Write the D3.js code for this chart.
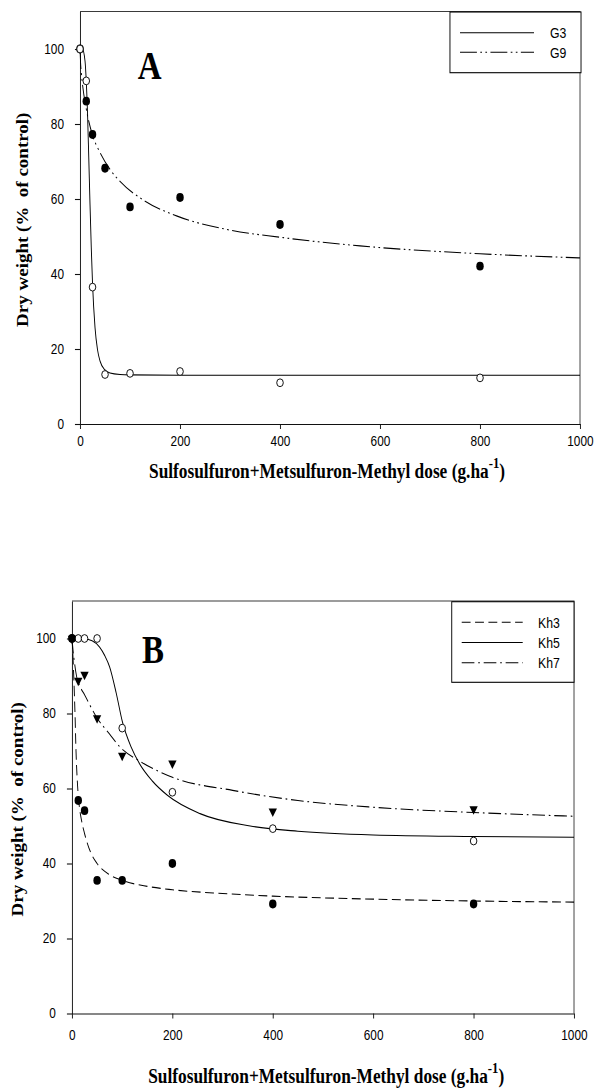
<!DOCTYPE html>
<html>
<head>
<meta charset="utf-8">
<script src="https://cdn.jsdelivr.net/npm/d3@7"></script>
<style>
  body { margin: 0; background: #fff; }
</style>
</head>
<body>
<div id="chart"></div>
<script>
	///////////////////////////////////////////////////////////////////////////
	/////////////////////////////////// Data //////////////////////////////////
	///////////////////////////////////////////////////////////////////////////

	var doses = [0, 12.5, 25, 50, 100, 200, 400, 800];

	//Panel A - measured dry weight (% of control)
	var g3 = [100, 91.5, 36.5, 13.2, 13.5, 14, 11, 12.3];
	var g9 = [100, 86.1, 77.2, 68.2, 57.9, 60.4, 53.2, 42.1];

	//Panel B
	var kh3 = [100, 56.8, 54.1, 35.5, 35.5, 40, 29.2, 29.2];
	var kh5 = [100, 100, 100, 100, 76.1, 59, 49.3, 46];
	var kh7 = [100, 88.8, 90.4, 78.8, 68.8, 66.7, 53.9, 54.5];

	//Fitted curves as [dose, % of control]
	var g3Fit = [[0,100],[5,99.9],[10,96.8],[12.5,91.4],[15,83],[17.5,71],[20,58.5],[22.5,47],[25,37.5],
		[30,25.7],[35,19.8],[40,16.8],[50,14.4],[60,13.6],[80,13.2],[100,13.1],[200,13],[1000,13]];
	var g9Fit = [[0,100],[1,96.6],[2.5,93.8],[5,90.5],[12.5,84],[25,77],[40,72.4],[60,67.9],[80,64.7],
		[127,59.7],[193,55.5],[293,51.9],[400,49.8],[560,47.5],[800,45.4],[1000,44.3]];
	var kh3Fit = [[0,100],[2,95],[4,88],[6,80],[8,70],[11,61],[14,56],[19,51.5],[25,48],[37,43],[50,40],
		[75,37],[100,35.5],[150,33.9],[200,33],[300,32],[400,31.3],[600,30.5],[800,30],[1000,29.7]];
	var kh5Fit = [[0,100],[20,100],[40,99.4],[55,97.7],[65,95.5],[75,92.4],[88,85.5],[100,78],[118,71],
		[135,66.5],[160,62],[190,58.2],[255,53.3],[355,50],[450,48.6],[600,47.6],[800,47.2],[1000,47]];
	var kh7Fit = [[0,100],[2,97],[5,93.5],[9,90],[15,87.5],[25,85],[49,79],[75,74.5],[96,71],[135,67.3],
		[200,63],[320,59.5],[450,56.8],[600,55],[800,53.6],[1000,52.6]];

	var xTicks = [0, 200, 400, 600, 800, 1000];
	var yTicks = [0, 20, 40, 60, 80, 100];

	///////////////////////////////////////////////////////////////////////////
	////////////////////////////// Set up the svg /////////////////////////////
	///////////////////////////////////////////////////////////////////////////

	var width = 597,
		height = 1091;
	//The original figure was squeezed sideways, so draw wider and let the viewBox squash it
	var squeeze = 0.845;

	var svg = d3.select("#chart").append("svg")
		.attr("width", width)
		.attr("height", height)
		.attr("viewBox", "0 0 " + (width / squeeze) + " " + height)
		.attr("preserveAspectRatio", "none");

	var sansFont = "'Liberation Sans', Arial, sans-serif",
		serifFont = "'Liberation Serif', 'Times New Roman', serif";

	var dashes = {
		solid: null,
		dashed: "10.5,5.3",
		dashDot: "15,4.5,2,4.5",
		dashDotDot: "20,4,2,4,2,4"
	};

	///////////////////////////////////////////////////////////////////////////
	////////////////////////////// Draw one panel /////////////////////////////
	///////////////////////////////////////////////////////////////////////////

	function drawPanel(p) {

		var x = d3.scaleLinear().domain([0, 1000]).range([p.left, p.right]);
		var y = d3.scaleLinear().domain([0, 110]).range([p.bottom, p.top]);

		var g = svg.append("g").attr("class", "panel");

		//Top and right side of the frame
		g.append("path")
			.attr("d", "M" + p.left + "," + y(110) + "H" + p.right + "V" + p.bottom)
			.attr("fill", "none")
			.attr("stroke", "#3a3a3a")
			.attr("stroke-width", 1.1);

		//Axes
		var xAxis = g.append("g")
			.attr("transform", "translate(0," + p.bottom + ")")
			.call(d3.axisBottom(x).tickValues(xTicks).tickFormat(d3.format("d"))
				.tickSize(5).tickSizeOuter(0).tickPadding(p.xPad));
		var yAxis = g.append("g")
			.attr("transform", "translate(" + p.left + ",0)")
			.call(d3.axisLeft(y).tickValues(yTicks).tickFormat(d3.format("d"))
				.tickSize(6).tickSizeOuter(0).tickPadding(13));

		[xAxis, yAxis].forEach(function(a) {
			a.attr("font-family", sansFont).attr("font-size", 14);
			a.selectAll("path, line").attr("stroke", "#111").attr("stroke-width", 1.1);
			a.selectAll("text").attr("fill", "#000");
		});

		//Fitted curves
		var line = d3.line()
			.x(function(d) { return x(d[0]); })
			.y(function(d) { return y(d[1]); })
			.curve(d3.curveMonotoneX);

		g.selectAll(".fit")
			.data(p.series)
			.enter().append("path")
			.attr("class", "fit")
			.attr("d", function(d) { return line(d.fit); })
			.attr("fill", "none")
			.attr("stroke", "#000")
			.attr("stroke-width", 1.1)
			.attr("stroke-dasharray", function(d) { return dashes[d.dash]; });

		//Observed points
		p.series.forEach(function(s) {
			var pts = doses.map(function(d, i) { return [d, s.values[i]]; });
			var marks = g.append("g").selectAll("path")
				.data(pts)
				.enter().append("path")
				.attr("transform", function(d) {
					return "translate(" + x(d[0]) + "," + y(d[1]) + ")" + (s.marker === "triangle" ? " rotate(180)" : "");
				});
			if (s.marker === "triangle") {
				marks.attr("d", d3.symbol().type(d3.symbolTriangle).size(42))
					.attr("fill", "#000");
			} else if (s.marker === "open") {
				marks.attr("d", d3.symbol().type(d3.symbolCircle).size(Math.PI * 3.9 * 3.9))
					.attr("fill", "#fff")
					.attr("stroke", "#000")
					.attr("stroke-width", 1);
			} else {
				marks.attr("d", d3.symbol().type(d3.symbolCircle).size(Math.PI * 4.4 * 4.4))
					.attr("fill", "#000");
			}
		});

		//Legend
		var lg = p.legend;
		g.append("rect")
			.attr("x", lg.x0)
			.attr("y", lg.y0)
			.attr("width", lg.x1 - lg.x0)
			.attr("height", lg.y1 - lg.y0)
			.attr("fill", "#fff")
			.attr("stroke", "#000")
			.attr("stroke-width", 1.1);

		var item = g.selectAll(".legend-item")
			.data(p.series.slice().sort(function(a, b) { return a.order - b.order; }))
			.enter().append("g")
			.attr("class", "legend-item")
			.attr("transform", function(d, i) { return "translate(0," + (lg.y0 + lg.first + i * lg.step) + ")"; });
		item.append("line")
			.attr("x1", lg.lineX0)
			.attr("x2", lg.lineX1)
			.attr("stroke", "#000")
			.attr("stroke-width", 1.1)
			.attr("stroke-dasharray", function(d) { return dashes[d.dash]; });
		item.append("text")
			.attr("x", lg.textX)
			.attr("dy", "0.36em")
			.attr("font-family", sansFont)
			.attr("font-size", 14.5)
			.text(function(d) { return d.name; });

		//Panel letter
		g.append("text")
			.attr("x", p.letterX)
			.attr("y", p.letterY)
			.attr("font-family", serifFont)
			.attr("font-weight", "bold")
			.attr("font-size", 39)
			.text(p.letter);

		//Axis titles
		g.append("text")
			.attr("transform", "translate(" + p.yTitleX + "," + ((p.top + p.bottom) / 2 + 2) + ") rotate(-90)")
			.attr("text-anchor", "middle")
			.attr("font-family", serifFont)
			.attr("font-weight", "bold")
			.attr("font-size", 19)
			.text("Dry weight (%\u00A0 of control)");

		var xTitle = g.append("text")
			.attr("x", p.xTitleX)
			.attr("y", p.xTitleY)
			.attr("text-anchor", "middle")
			.attr("font-family", serifFont)
			.attr("font-weight", "bold")
			.attr("font-size", 20.5);
		xTitle.append("tspan").text("Sulfosulfuron+Metsulfuron-Methyl dose (g.ha");
		xTitle.append("tspan").attr("dy", -10).attr("font-size", 15).text("-1");
		xTitle.append("tspan").attr("dy", 10).text(")");
	}

	///////////////////////////////////////////////////////////////////////////
	/////////////////////////////// Both panels ///////////////////////////////
	///////////////////////////////////////////////////////////////////////////

	drawPanel({
		letter: "A",
		left: 94.7, right: 686.4, top: 11.5, bottom: 424,
		xPad: 7,
		letterX: 163, letterY: 79,
		yTitleX: 33, xTitleX: 387, xTitleY: 478,
		legend: { x0: 532.5, x1: 687.6, y0: 12, y1: 72.7, first: 20.7, step: 19.6,
			lineX0: 544.4, lineX1: 632, textX: 650.9 },
		series: [
			{ name: "G9", order: 2, values: g9, fit: g9Fit, dash: "dashDotDot", marker: "filled" },
			{ name: "G3", order: 1, values: g3, fit: g3Fit, dash: "solid", marker: "open" }
		]
	});

	drawPanel({
		letter: "B",
		left: 85.2, right: 679.3, top: 601, bottom: 1013.5,
		xPad: 12,
		letterX: 168, letterY: 663,
		yTitleX: 27, xTitleX: 386, xTitleY: 1083,
		legend: { x0: 534.6, x1: 679.3, y0: 601.7, y1: 682.3, first: 20.6, step: 20.2,
			lineX0: 546.4, lineX1: 618.6, textX: 636.7 },
		series: [
			{ name: "Kh7", order: 3, values: kh7, fit: kh7Fit, dash: "dashDot", marker: "triangle" },
			{ name: "Kh5", order: 2, values: kh5, fit: kh5Fit, dash: "solid", marker: "open" },
			{ name: "Kh3", order: 1, values: kh3, fit: kh3Fit, dash: "dashed", marker: "filled" }
		]
	});
</script>
</body>
</html>
